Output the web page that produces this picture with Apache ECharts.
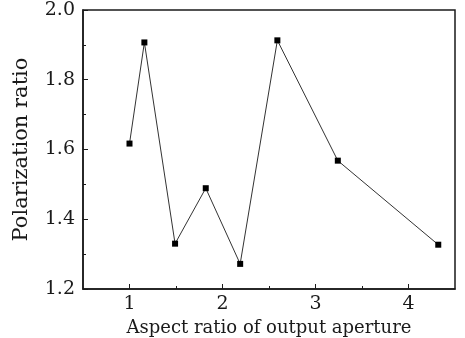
<!DOCTYPE html>
<html>
<head>
<meta charset="utf-8">
<script src="https://cdn.jsdelivr.net/npm/echarts@6/dist/echarts.min.js"></script>
<style>
  html, body { margin: 0; padding: 0; background: #fff; }
  #chart { width: 465px; height: 338px; }
</style>
</head>
<body>
<div id="chart"></div>
<script>
// 數據
const aspectRatio = [1.0, 1.16, 1.49, 1.82, 2.19, 2.59, 3.24, 4.32];
const polarRatio = [1.617, 1.907, 1.330, 1.489, 1.272, 1.913, 1.568, 1.327];
const xMajorTicks = [1, 2, 3, 4];
const xMinorTicks = [1.5, 2.5, 3.5];

const FONT = 'DejaVu Serif';
const INK = '#1a1a1a';

const chart = echarts.init(document.getElementById('chart'));

const option = {
    animation: false,
    backgroundColor: '#fff',
    grid: {
        left: 83, right: 10, top: 10, bottom: 49,
        outerBoundsMode: 'none', // 固定繪圖區，不自動縮
        show: true,
        borderColor: INK,
        borderWidth: 1.5
    },
    xAxis: [
        {
            type: 'value',
            min: 0.5,
            max: 4.5,
            name: 'Aspect ratio of output aperture',
            nameLocation: 'middle',
            nameGap: 27,
            nameTextStyle: { fontFamily: FONT, fontSize: 18, color: INK },
            axisLine: { show: true, lineStyle: { color: INK, width: 1.5 } },
            axisTick: { show: true, inside: true, length: 5, customValues: xMajorTicks, lineStyle: { color: INK } },
            axisLabel: { customValues: xMajorTicks, margin: 6, fontFamily: FONT, fontSize: 19, color: INK },
            splitLine: { show: false }
        },
        {
            // 次刻度
            type: 'value',
            min: 0.5,
            max: 4.5,
            position: 'bottom',
            axisLine: { show: false },
            axisTick: { show: true, inside: true, length: 3, customValues: xMinorTicks, lineStyle: { color: INK } },
            axisLabel: { show: false },
            splitLine: { show: false }
        }
    ],
    yAxis: {
        type: 'value',
        min: 1.2,
        max: 2.0,
        interval: 0.2,
        name: 'Polarization ratio',
        nameLocation: 'middle',
        nameGap: 51,
        nameTextStyle: { fontFamily: FONT, fontSize: 21, color: INK },
        axisLine: { show: true, lineStyle: { color: INK, width: 1.5 } },
        axisTick: { show: true, inside: true, length: 5, lineStyle: { color: INK } },
        minorTick: { show: true, splitNumber: 2, length: 3, lineStyle: { color: INK } },
        axisLabel: {
            margin: 8,
            fontFamily: FONT,
            fontSize: 19,
            color: INK,
            formatter: v => v.toFixed(1)
        },
        splitLine: { show: false }
    },
    series: [
        {
            type: 'line',
            data: aspectRatio.map((x, i) => [x, polarRatio[i]]),
            symbol: 'rect',
            symbolSize: 6,
            itemStyle: { color: '#000' },
            lineStyle: { color: '#333', width: 1 }
        }
    ]
};

chart.setOption(option);
</script>
</body>
</html>
